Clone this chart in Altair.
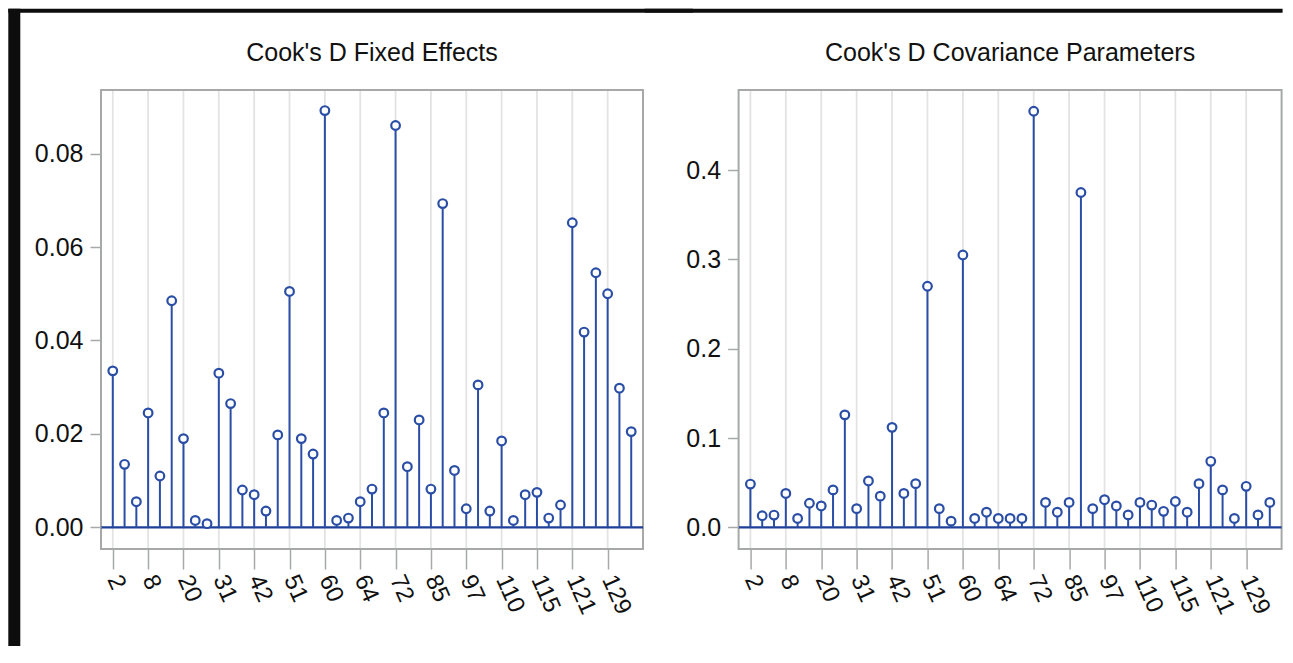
import altair as alt
import pandas as pd

# ---------------- data ----------------
ids = ["2", "4", "6", "8", "11", "15", "20", "24", "27", "31", "35", "38",
       "42", "45", "48", "51", "54", "57", "60", "61", "62", "64", "66", "69",
       "72", "77", "81", "85", "89", "93", "97", "102", "106", "110", "112", "113",
       "115", "117", "119", "121", "124", "127", "129", "132", "135"]

tick_ids = ["2", "8", "20", "31", "42", "51", "60", "64", "72", "85", "97",
            "110", "115", "121", "129"]

fixed_effects = [0.0335, 0.0135, 0.0055, 0.0245, 0.0110, 0.0485, 0.0190, 0.0015,
                 0.0008, 0.0330, 0.0265, 0.0080, 0.0070, 0.0035, 0.0198, 0.0505,
                 0.0190, 0.0157, 0.0892, 0.0015, 0.0020, 0.0055, 0.0082, 0.0245,
                 0.0860, 0.0130, 0.0230, 0.0082, 0.0693, 0.0122, 0.0040, 0.0305,
                 0.0035, 0.0185, 0.0015, 0.0070, 0.0075, 0.0020, 0.0048, 0.0652,
                 0.0418, 0.0545, 0.0500, 0.0298, 0.0205]

cov_params = [0.0485, 0.0130, 0.0138, 0.0380, 0.0100, 0.0270, 0.0240, 0.0420,
              0.1260, 0.0210, 0.0520, 0.0350, 0.1120, 0.0380, 0.0490, 0.2700,
              0.0210, 0.0070, 0.3050, 0.0100, 0.0170, 0.0100, 0.0100, 0.0100,
              0.4660, 0.0280, 0.0170, 0.0280, 0.3750, 0.0210, 0.0310, 0.0240,
              0.0140, 0.0280, 0.0250, 0.0180, 0.0290, 0.0170, 0.0490, 0.0740,
              0.0420, 0.0100, 0.0460, 0.0140, 0.0280]

fixed_ticks = [0.0, 0.02, 0.04, 0.06, 0.08]
cov_ticks = [0.0, 0.1, 0.2, 0.3, 0.4]

titles = ["Cook's D Fixed Effects", "Cook's D Covariance Parameters"]

# ---------------- style ----------------
FONT = "Liberation Sans, Arial, sans-serif"
BLUE = "#2a4ea6"
REF_BLUE = "#1c3f98"
FRAME = "#a7a9a9"
GRID = "#e3e3e3"
DARK = "#0d0d0d"
HEIGHT = 459


def panel(values, title, domain, yticks, fmt, width, left_ext, right_ext, pad,
          left_bar):
    df = pd.DataFrame({"id": ids, "value": values})
    ticks_df = pd.DataFrame({"id": tick_ids})
    one = pd.DataFrame({"k": [0]})

    xenc = alt.X(
        "id:N",
        title=None,
        scale=alt.Scale(domain=ids, type="point", padding=pad),
        axis=alt.Axis(
            values=tick_ids, labelAngle=66, labelAlign="left", labelBaseline="middle",
            labelFont=FONT, labelFontSize=24, labelColor="#111111", labelOverlap=False,
            labelPadding=7, tickSize=20, tickColor=FRAME, tickWidth=1.5,
            domain=False, grid=False, zindex=1,
        ),
    )
    yenc = alt.Y(
        "value:Q",
        title=None,
        scale=alt.Scale(domain=domain, nice=False, zero=False),
        axis=alt.Axis(
            values=yticks, format=fmt, labelFont=FONT, labelFontSize=25,
            labelColor="#111111", labelPadding=7, tickSize=11, tickColor=FRAME,
            tickWidth=1.5, domain=False, grid=False, zindex=1,
        ),
    )

    layers = []
    # page area (white) and the dark border strips of the screenshot
    layers.append(alt.Chart(one).mark_rect(color="white").encode(
        x=alt.value(-left_ext), x2=alt.value(width + right_ext),
        y=alt.value(-77.3), y2=alt.value(HEIGHT + 97),
    ))
    layers.append(alt.Chart(one).mark_rect(color=DARK).encode(
        x=alt.value(-left_ext - (12 if left_bar else 0)), x2=alt.value(width + right_ext),
        y=alt.value(-81.3), y2=alt.value(-77.3),
    ))
    if left_bar:
        layers.append(alt.Chart(one).mark_rect(color=DARK).encode(
            x=alt.value(-left_ext - 12), x2=alt.value(-left_ext),
            y=alt.value(-81.3), y2=alt.value(HEIGHT + 97),
        ))
    layers.append(alt.Chart(ticks_df).mark_rule(color=GRID, strokeWidth=1.8).encode(x=xenc))
    layers.append(alt.Chart(one).mark_rect(fillOpacity=0, stroke=FRAME, strokeWidth=2).encode(
        x=alt.value(0), x2=alt.value(width), y=alt.value(0), y2=alt.value(HEIGHT),
    ))
    layers.append(alt.Chart(one).mark_rule(color=REF_BLUE, strokeWidth=2.2).encode(
        y=alt.YDatum(0, title=None)
    ))
    layers.append(alt.Chart(df).mark_rule(color=BLUE, strokeWidth=2).encode(
        x=xenc, y=yenc, y2=alt.datum(0)
    ))
    layers.append(alt.Chart(df).mark_point(
        shape="circle", filled=True, fill="white", stroke=BLUE, strokeWidth=2.2,
        size=75, opacity=1,
    ).encode(x=xenc, y=yenc))
    layers.append(alt.Chart(one).mark_text(
        font=FONT, fontSize=25, color="#111111", align="center", baseline="alphabetic"
    ).encode(x=alt.value(width / 2), y=alt.value(-29), text=alt.value(title)))

    return alt.layer(*layers).properties(width=width, height=HEIGHT)


left = panel(fixed_effects, titles[0], [-0.00462, 0.0936], fixed_ticks, ".2f",
             542, 80.7, 50, 2.4, True)
right = panel(cov_params, titles[1], [-0.0242, 0.4898], cov_ticks, ".1f",
              543, 94.0, 1, 2.3, False)

chart = alt.hconcat(left, right, spacing=95.6, bounds="flush").properties(
    padding=0,
    background="white",
).configure_view(strokeWidth=0)

chart.save("out.html", embed_options={"renderer": "svg", "actions": False})
